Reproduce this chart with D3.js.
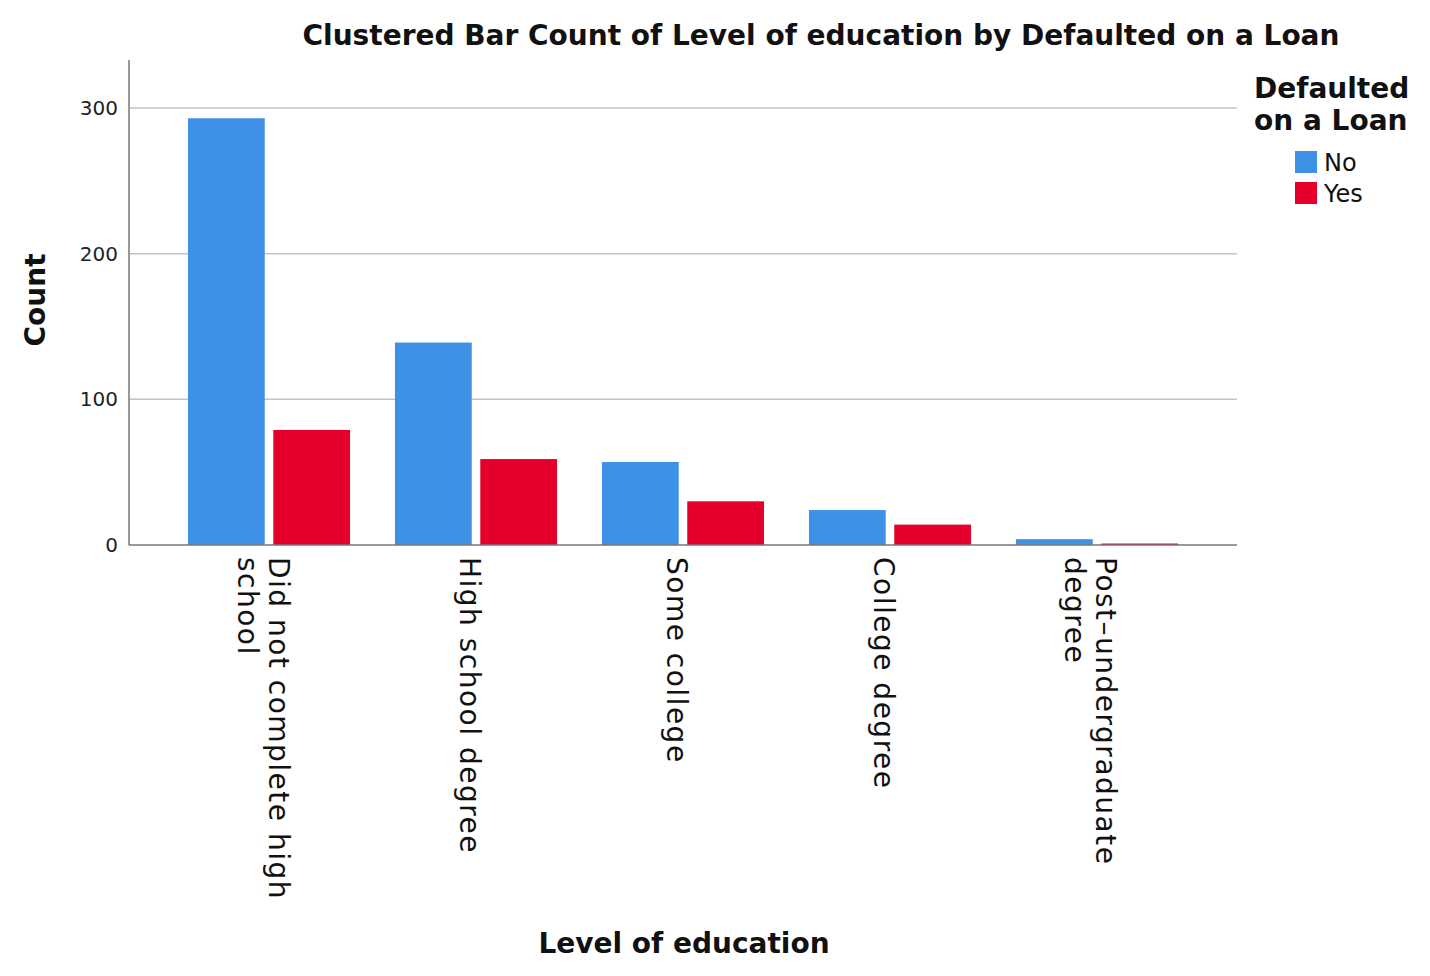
<!DOCTYPE html>
<html>
<head>
<meta charset="utf-8">
<script src="https://cdn.jsdelivr.net/npm/d3@7"></script>
<style>
  html, body { margin: 0; padding: 0; background: #fff; }
  svg { display: block; font-family: "DejaVu Sans", sans-serif; }
</style>
</head>
<body>
<svg id="chart" width="1430" height="976"></svg>
<script>
const categories = ["Did not complete high school", "High school degree", "Some college", "College degree", "Post-undergraduate degree"];
const categoryLines = [["Did not complete high", "school"], ["High school degree"], ["Some college"], ["College degree"], ["Post\u2013undergraduate", "degree"]];
const seriesNames = ["No", "Yes"];
const noValues = [293, 139, 57, 24, 4];
const yesValues = [79, 59, 30, 14, 1];
const yTicks = [0, 100, 200, 300];
const colors = ["#3f91e8", "#e5002b"];

(function () {
const svg = d3.select("#chart");
const pLeft = 129, pRight = 1237, pBottom = 545, pTop = 60;

const x = d3.scaleBand().domain(categories).range([pLeft, pRight]).paddingInner(0.217).paddingOuter(0.285);
const xs = d3.scaleBand().domain(seriesNames).range([0, x.bandwidth()]).paddingInner(0.1);
const y = d3.scaleLinear().domain([0, 333]).range([pBottom, pTop]);

const seriesValues = { "No": noValues, "Yes": yesValues };

// gridlines
svg.append("g").selectAll("line").data(yTicks.filter(d => d > 0)).join("line")
  .attr("x1", pLeft).attr("x2", pRight)
  .attr("y1", d => y(d)).attr("y2", d => y(d))
  .attr("stroke", "#c4c4c4").attr("stroke-width", 1.5);

// bars
const groups = svg.append("g").selectAll("g").data(categories).join("g")
  .attr("transform", d => `translate(${x(d)},0)`);
groups.selectAll("rect").data((c, i) => seriesNames.map((s, j) => ({ s, j, v: seriesValues[s][i] }))).join("rect")
  .attr("x", d => xs(d.s)).attr("width", xs.bandwidth())
  .attr("y", d => y(d.v)).attr("height", d => y(0) - y(d.v))
  .attr("fill", d => colors[d.j]);

// y axis
const yAxis = d3.axisLeft(y).tickValues(yTicks).tickSize(0).tickPadding(11);
const ya = svg.append("g").attr("transform", `translate(${pLeft},0)`).call(yAxis);
ya.select(".domain").remove();
ya.selectAll("text").attr("font-size", 20).attr("fill", "#222").attr("font-family", "DejaVu Sans");
svg.append("line").attr("x1", pLeft).attr("x2", pLeft).attr("y1", pTop).attr("y2", pBottom)
  .attr("stroke", "#777").attr("stroke-width", 1.5);
svg.append("line").attr("x1", pLeft).attr("x2", pRight).attr("y1", pBottom).attr("y2", pBottom)
  .attr("stroke", "#777").attr("stroke-width", 1.5);

// x category labels (rotated)
const lineH = 31;
categories.forEach((c, i) => {
  const lines = categoryLines[i];
  const cx = x(c) + x.bandwidth() / 2;
  const n = lines.length;
  const g = svg.append("g").attr("transform", `translate(${cx - 16 + (n - 1) * lineH / 2},557) rotate(90)`);
  lines.forEach((ln, k) => {
    g.append("text").attr("x", 0).attr("y", k * lineH)
      .attr("font-size", 28).attr("letter-spacing", 1.5).attr("fill", "#111").text(ln);
  });
});

// titles
svg.append("text").attr("x", 821).attr("y", 45).attr("text-anchor", "middle")
  .attr("font-size", 28).attr("font-weight", "bold").attr("fill", "#111")
  .text("Clustered Bar Count of Level of education by Defaulted on a Loan");
svg.append("text").attr("x", 684).attr("y", 953).attr("text-anchor", "middle")
  .attr("font-size", 28).attr("font-weight", "bold").attr("fill", "#111")
  .text("Level of education");
svg.append("text").attr("transform", "translate(45,300) rotate(-90)").attr("text-anchor", "middle")
  .attr("font-size", 28).attr("font-weight", "bold").attr("fill", "#111")
  .text("Count");

// legend
const lg = svg.append("g");
lg.append("text").attr("x", 1254).attr("y", 98).attr("font-size", 28).attr("font-weight", "bold").attr("fill", "#111").text("Defaulted");
lg.append("text").attr("x", 1254).attr("y", 130).attr("font-size", 28).attr("font-weight", "bold").attr("fill", "#111").text("on a Loan");
seriesNames.forEach((s, j) => {
  lg.append("rect").attr("x", 1295).attr("y", 151 + j * 31).attr("width", 22).attr("height", 22).attr("fill", colors[j]);
  lg.append("text").attr("x", 1324).attr("y", 171 + j * 31).attr("font-size", 24).attr("fill", "#111").text(s);
});
})();
</script>
</body>
</html>
